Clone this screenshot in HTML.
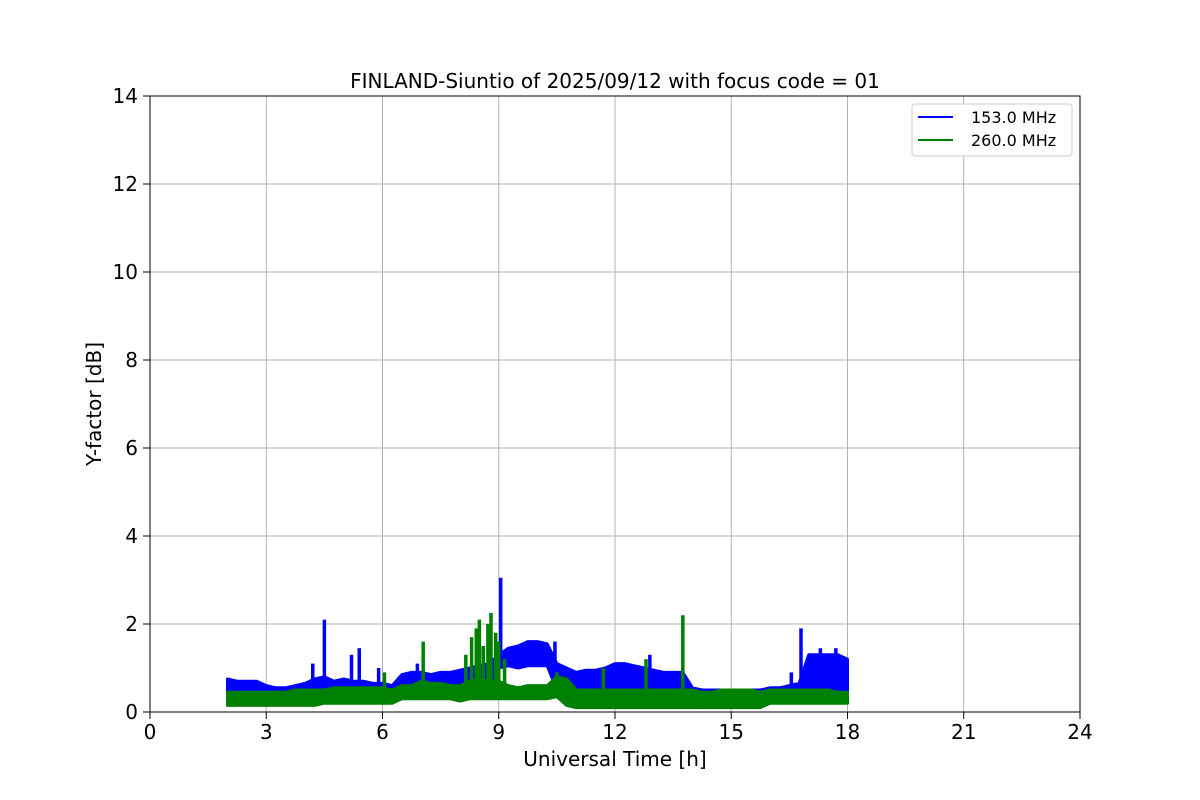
<!DOCTYPE html>
<html><head><meta charset="utf-8"><style>
body{margin:0;background:#fff;}
svg{display:block;font-family:"DejaVu Sans","Liberation Sans",sans-serif;}
</style></head><body>
<svg id="chart" width="1200" height="800">
<text x="615" y="88" font-size="20" text-anchor="middle">FINLAND-Siuntio of 2025/09/12 with focus code = 01</text>
<g id="grid"></g>
<g id="series"></g>
<rect x="150" y="96" width="930" height="616" fill="none" stroke="#000" stroke-width="1"/>
<g id="ticks"></g>
<text x="615" y="766" font-size="20" text-anchor="middle">Universal Time [h]</text>
<text transform="translate(101,404) rotate(-90)" font-size="20" text-anchor="middle">Y-factor [dB]</text>
<g>
<rect x="912" y="104" width="160" height="52" rx="3" fill="#fff" stroke="#ccc"/>
<line x1="918" y1="117" x2="953" y2="117" stroke="blue" stroke-width="2"/>
<text x="971" y="123" font-size="16">153.0 MHz</text>
<line x1="918" y1="140" x2="953" y2="140" stroke="green" stroke-width="2"/>
<text x="971" y="146" font-size="16">260.0 MHz</text>
</g>
</svg>
<script>
const xTicks=[0,3,6,9,12,15,18,21,24];
const yTicks=[0,2,4,6,8,10,12,14];
const tStart=2, tStep=0.25;
const blueHi=[0.75,0.7,0.7,0.7,0.6,0.55,0.55,0.6,0.65,0.75,0.8,0.7,0.75,0.7,0.7,0.65,0.65,0.6,0.85,0.9,0.9,0.85,0.9,0.9,0.95,1.0,1.05,1.1,1.3,1.45,1.5,1.6,1.6,1.55,1.1,1.0,0.9,0.95,0.95,1.0,1.1,1.1,1.05,1.0,0.95,0.9,0.9,0.9,0.55,0.5,0.5,0.5,0.5,0.5,0.5,0.5,0.55,0.55,0.6,0.65,1.3,1.3,1.3,1.3,1.2];
const blueLo=[0.3,0.3,0.3,0.3,0.2,0.2,0.25,0.25,0.3,0.3,0.3,0.3,0.3,0.3,0.3,0.3,0.3,0.3,0.4,0.4,0.45,0.45,0.45,0.45,0.5,0.5,0.6,0.6,1.0,1.05,1.0,1.05,1.05,1.05,0.5,0.3,0.4,0.5,0.5,0.5,0.5,0.5,0.5,0.4,0.4,0.4,0.4,0.3,0.15,0.1,0.15,0.15,0.15,0.15,0.15,0.15,0.25,0.25,0.3,0.3,0.4,0.4,0.4,0.4,0.3];
const greenHi=[0.45,0.45,0.45,0.45,0.45,0.45,0.45,0.5,0.5,0.5,0.5,0.55,0.55,0.55,0.55,0.55,0.55,0.5,0.6,0.6,0.7,0.65,0.65,0.6,0.6,0.7,0.75,0.7,0.7,0.6,0.55,0.6,0.6,0.6,0.8,0.75,0.5,0.5,0.5,0.5,0.5,0.5,0.5,0.5,0.5,0.5,0.5,0.5,0.5,0.45,0.45,0.5,0.5,0.5,0.5,0.45,0.5,0.5,0.5,0.5,0.5,0.5,0.5,0.45,0.45];
const greenLo=[0.15,0.15,0.15,0.15,0.15,0.15,0.15,0.15,0.15,0.15,0.2,0.2,0.2,0.2,0.2,0.2,0.2,0.2,0.3,0.3,0.3,0.3,0.3,0.3,0.25,0.3,0.3,0.3,0.3,0.3,0.3,0.3,0.3,0.3,0.35,0.15,0.1,0.1,0.1,0.1,0.1,0.1,0.1,0.1,0.1,0.1,0.1,0.1,0.1,0.1,0.1,0.1,0.1,0.1,0.1,0.1,0.2,0.2,0.2,0.2,0.2,0.2,0.2,0.2,0.2];
const blueSpikeT=[4.2,4.5,5.2,5.4,5.9,6.9,9.05,10.45,12.9,16.55,16.8,17.3,17.7];
const blueSpikeV=[1.1,2.1,1.3,1.45,1.0,1.1,3.05,1.6,1.3,0.9,1.9,1.45,1.45];
const greenSpikeT=[6.05,7.05,8.15,8.3,8.42,8.5,8.6,8.72,8.8,8.92,9.0,9.15,10.5,11.7,12.8,13.75];
const greenSpikeV=[0.9,1.6,1.3,1.7,1.9,2.1,1.5,2.0,2.25,1.8,1.6,1.2,0.9,1.0,1.2,2.2];

const X=t=>150+t*930/24, Y=v=>712-v*44;
const NS='http://www.w3.org/2000/svg';
function mk(tag,attrs,parent){const e=document.createElementNS(NS,tag);for(const k in attrs)e.setAttribute(k,attrs[k]);parent.appendChild(e);return e;}
const grid=document.getElementById('grid'),ticks=document.getElementById('ticks'),series=document.getElementById('series');
xTicks.forEach(t=>{
 const g=mk('line',{x1:X(t),x2:X(t),y1:96,y2:712,stroke:'#b0b0b0','stroke-width':1},grid);
 
 
 const tk=mk('line',{x1:X(t),x2:X(t),y1:712,y2:719,stroke:'#000'},ticks);
 
 
 const tx=mk('text',{x:X(t),y:739,'font-size':20,'text-anchor':'middle'},ticks);tx.textContent=t;
 
 
});
yTicks.forEach(v=>{
 const g=mk('line',{x1:150,x2:1080,y1:Y(v),y2:Y(v),stroke:'#b0b0b0','stroke-width':1},grid);
 
 
 const tk=mk('line',{x1:143,x2:150,y1:Y(v),y2:Y(v),stroke:'#000'},ticks);
 
 
 const tx=mk('text',{x:138,y:Y(v)+7,'font-size':20,'text-anchor':'end'},ticks);tx.textContent=v;
 
 
});
function band(hi,lo,color,name){
 let pts=[];
 hi.forEach((v,i)=>pts.push(X(tStart+i*tStep)+','+Y(v)));
 for(let i=lo.length-1;i>=0;i--)pts.push(X(tStart+i*tStep)+','+Y(lo[i]));
 const p=mk('polygon',{points:pts.join(' '),fill:color,stroke:color,'stroke-width':3,'stroke-linejoin':'round'},series);
 
 
}
function spikes(ts,vs,lo,color,name){
 ts.forEach((t,i)=>{
  const idx=Math.min(lo.length-1,Math.max(0,Math.round((t-tStart)/tStep)));
  const l=mk('line',{x1:X(t),x2:X(t),y1:Y(lo[idx]),y2:Y(vs[i]),stroke:color,'stroke-width':3.5},series);
  
  
 });
}
band(blueHi,blueLo,'blue','series-153mhz');
spikes(blueSpikeT,blueSpikeV,blueLo,'blue','spike-153mhz');
band(greenHi,greenLo,'green','series-260mhz');
spikes(greenSpikeT,greenSpikeV,greenLo,'green','spike-260mhz');
</script>
</body></html>
